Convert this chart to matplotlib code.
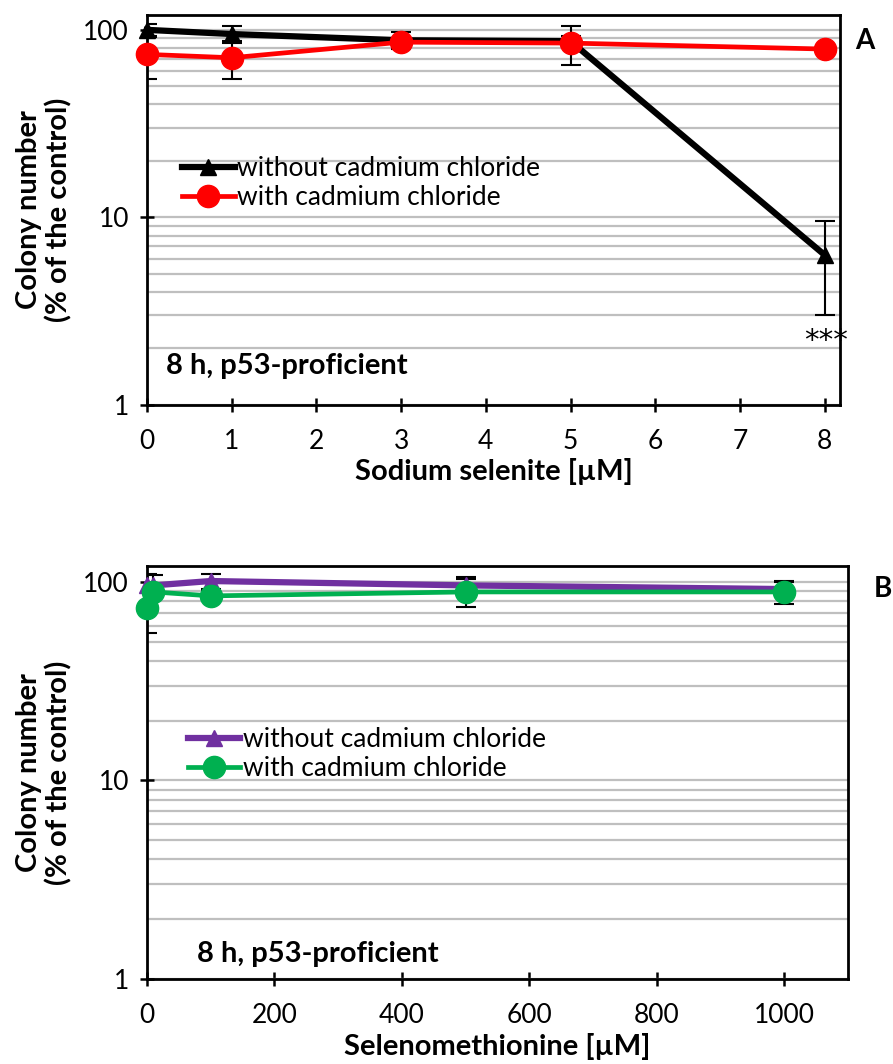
import matplotlib
matplotlib.use("Agg")
import matplotlib.pyplot as plt
from matplotlib.ticker import FixedLocator, NullFormatter

plt.rcParams["font.family"] = ["Lato", "DejaVu Sans"]

# panel A: sodium selenite
sel_x = [0, 1, 3, 5, 8]
sel_without = [100, 95, 88, 87, 6.3]
sel_without_err = [8, 10, 9, 6, 3.3]
sel_with = [74, 71, 86, 85, 79]
sel_with_err = [19, 16, 5, 20, 3]

# panel B: selenomethionine
met_x = [0, 10, 100, 500, 1000]
met_without = [97, 96, 101, 96, 92]
met_without_err = [12, 12, 9, 10, 8]
met_with = [74, 89, 85, 89, 89]
met_with_err = [19, 5, 5, 14, 12]

minor_grid = [2, 3, 4, 5, 6, 7, 8, 9, 20, 30, 40, 50, 60, 70, 80, 90, 100]


def style_axes(ax, xlim, xticks):
    ax.set_yscale("log")
    ax.set_ylim(1, 120)
    ax.set_xlim(*xlim)
    ax.set_yticks([1, 10, 100])
    ax.set_yticklabels(["1", "10", "100"])
    ax.yaxis.set_minor_locator(FixedLocator(minor_grid))
    ax.yaxis.set_minor_formatter(NullFormatter())
    ax.tick_params(axis="y", which="minor", length=0)
    ax.grid(True, axis="y", which="both", color="#bfbfbf", lw=1.6, zorder=0)
    ax.set_axisbelow(True)
    ax.set_xticks(xticks)
    ax.tick_params(axis="both", which="major", direction="inout", length=10, width=1.8,
                   labelsize=19)
    ax.tick_params(axis="x", pad=12)
    ax.tick_params(axis="y", pad=8)
    for sp in ax.spines.values():
        sp.set_linewidth(2)
    ax.set_ylabel("Colony number\n(% of the control)", fontsize=21, fontweight="bold",
                  labelpad=8, linespacing=1.15)


def draw_series(ax, x, y, err, color, marker, ms, lw, label):
    ax.errorbar(x, y, yerr=err, fmt="none", ecolor="black", elinewidth=1.5,
                capsize=7, capthick=1.5, zorder=2)
    ax.plot(x, y, color=color, marker=marker, ms=ms, lw=lw, label=label,
            clip_on=False, zorder=3)


fig = plt.figure(figsize=(8.93, 10.64), dpi=100)

ax1 = fig.add_axes([0.1646, 0.6194, 0.776, 0.3665])
style_axes(ax1, (0, 8.18), range(0, 9))
draw_series(ax1, sel_x, sel_without, sel_without_err, "black", "^", 12, 4.5,
            "without cadmium chloride")
draw_series(ax1, sel_x, sel_with, sel_with_err, "#ff0000", "o", 16, 3.4,
            "with cadmium chloride")
ax1.set_xlabel("Sodium selenite [µM]", fontsize=21, fontweight="bold", labelpad=3)
ax1.legend(loc="upper left", bbox_to_anchor=(0.035, 0.665), frameon=False, fontsize=19,
           handlelength=2.0, handletextpad=0.1, borderaxespad=0, labelspacing=0.15)
ax1.text(0.028, 0.1, "8 h, p53-proficient", transform=ax1.transAxes, fontsize=21,
         fontweight="bold", va="center")
ax1.text(8.02, 2.2, "***", fontsize=21, ha="center", va="center",
         family="DejaVu Sans")
fig.text(0.958, 0.961, "A", fontsize=20, fontweight="bold", ha="left", va="center")

ax2 = fig.add_axes([0.1646, 0.0799, 0.785, 0.388])
style_axes(ax2, (0, 1100), range(0, 1001, 200))
draw_series(ax2, met_x, met_without, met_without_err, "#7030a0", "^", 12, 4.5,
            "without cadmium chloride")
draw_series(ax2, met_x, met_with, met_with_err, "#00b050", "o", 16, 3.4,
            "with cadmium chloride")
ax2.set_xlabel("Selenomethionine [µM]", fontsize=21, fontweight="bold", labelpad=4)
ax2.legend(loc="upper left", bbox_to_anchor=(0.043, 0.635), frameon=False, fontsize=19,
           handlelength=2.0, handletextpad=0.1, borderaxespad=0, labelspacing=0.15)
ax2.text(0.072, 0.06, "8 h, p53-proficient", transform=ax2.transAxes, fontsize=21,
         fontweight="bold", va="center")
fig.text(0.978, 0.446, "B", fontsize=20, fontweight="bold", ha="left", va="center")

fig.savefig("out.png", dpi=100)
